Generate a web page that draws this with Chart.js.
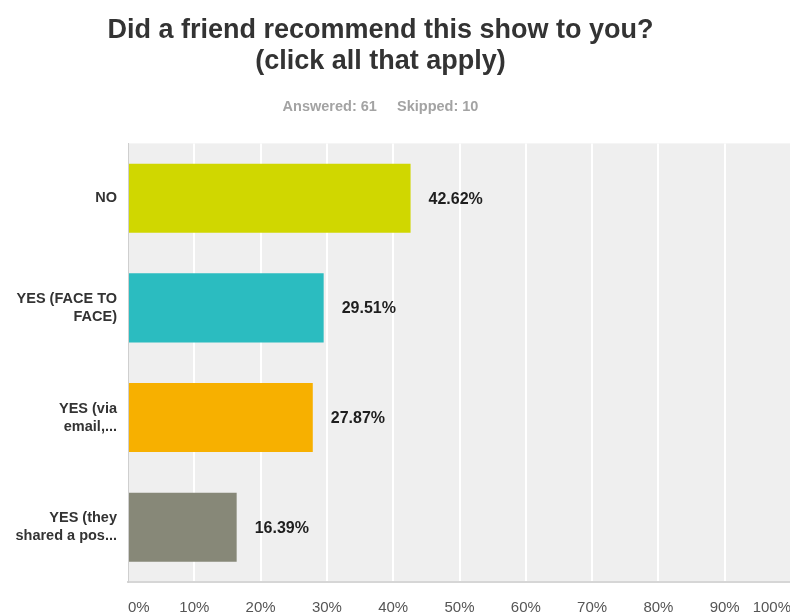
<!DOCTYPE html>
<html>
<head>
<meta charset="utf-8">
<script src="https://cdn.jsdelivr.net/npm/chart.js@4/dist/chart.umd.min.js"></script>
<style>
  html, body { margin: 0; padding: 0; background: #ffffff; overflow: hidden; }
  #wrap { position: absolute; left: -30px; top: 0; width: 821px; height: 615px; }
</style>
</head>
<body>
<div id="wrap"><canvas id="chart" width="821" height="615"></canvas></div>
<script>
// Survey answers (one response could pick several)
const categories = [
  'NO',
  ['YES (FACE TO', 'FACE)'],
  ['YES (via', 'email,...'],
  ['YES (they', 'shared a pos...']
];
const percentages = [42.62, 29.51, 27.87, 16.39];
const barColors = ['#d0d700', '#2bbcc0', '#f7b000', '#878878'];
const titleLines = ['Did a friend recommend this show to you?', '(click all that apply)'];
const answered = 61;
const skipped = 10;

const FONT = "'Liberation Sans', Arial, Helvetica, sans-serif";

// light grey panel behind the bars
const panelBackground = {
  id: 'panelBackground',
  beforeDraw(chart) {
    const { ctx, chartArea: a } = chart;
    ctx.save();
    ctx.fillStyle = '#efefef';
    ctx.fillRect(a.left, a.top, a.right - a.left, a.bottom - a.top);
    ctx.restore();
  }
};

// percentage printed just past the end of each bar
const valueLabels = {
  id: 'valueLabels',
  afterDatasetsDraw(chart) {
    const { ctx } = chart;
    const meta = chart.getDatasetMeta(0);
    const data = chart.data.datasets[0].data;
    ctx.save();
    ctx.font = 'bold 16px ' + FONT;
    ctx.fillStyle = '#1e1e1e';
    ctx.textAlign = 'left';
    ctx.textBaseline = 'middle';
    meta.data.forEach((bar, i) => {
      ctx.fillText(data[i].toFixed(2) + '%', bar.x + 18, bar.y + 1);
    });
    ctx.restore();
  }
};

// the panel runs edge to edge, so no extra room around the axes
function noEdgePadding(scale) {
  scale.paddingLeft = 0;
  scale.paddingRight = 0;
  scale.paddingTop = 0;
  scale.paddingBottom = 0;
}

new Chart(document.getElementById('chart'), {
  type: 'bar',
  data: {
    labels: categories,
    datasets: [{
      data: percentages,
      backgroundColor: barColors,
      borderWidth: 0,
      barPercentage: 0.9,
      categoryPercentage: 0.7
    }]
  },
  options: {
    indexAxis: 'y',
    responsive: false,
    animation: false,
    devicePixelRatio: 1,
    layout: { padding: 0 },
    plugins: {
      legend: { display: false },
      tooltip: { enabled: false },
      title: {
        display: true,
        text: titleLines,
        color: '#333333',
        font: { family: FONT, size: 27, weight: 'bold', lineHeight: 31 / 27 },
        padding: { top: 15, bottom: 0 }
      },
      subtitle: {
        display: true,
        text: 'Answered: ' + answered + '\u00a0\u00a0\u00a0\u00a0\u00a0Skipped: ' + skipped,
        color: '#a3a3a3',
        font: { family: FONT, size: 14.5, weight: 'bold', lineHeight: 1.2 },
        padding: { top: 21, bottom: 28 }
      }
    },
    scales: {
      x: {
        min: 0,
        max: 100,
        afterFit(scale) {
          noEdgePadding(scale);
          scale.height = 33;
        },
        ticks: {
          stepSize: 10,
          align: 'inner',
          padding: 18,
          color: '#555555',
          font: { family: FONT, size: 15, lineHeight: 1 },
          callback: v => v + '%'
        },
        grid: {
          color: ctx => (ctx.tick && (ctx.tick.value === 0 || ctx.tick.value === 100)) ? 'rgba(0,0,0,0)' : '#ffffff',
          lineWidth: 2,
          drawTicks: false
        },
        border: { display: true, color: '#d6d6d6', width: 2 }
      },
      y: {
        afterFit(scale) {
          noEdgePadding(scale);
          scale.width = 158;
        },
        ticks: {
          padding: 11,
          color: '#333333',
          font: { family: FONT, size: 14.5, weight: 'bold', lineHeight: 18 / 14.5 }
        },
        grid: { display: false, drawTicks: false },
        border: { display: true, color: '#cfcfcf', width: 1 }
      }
    }
  },
  plugins: [panelBackground, valueLabels]
});
</script>
</body>
</html>
